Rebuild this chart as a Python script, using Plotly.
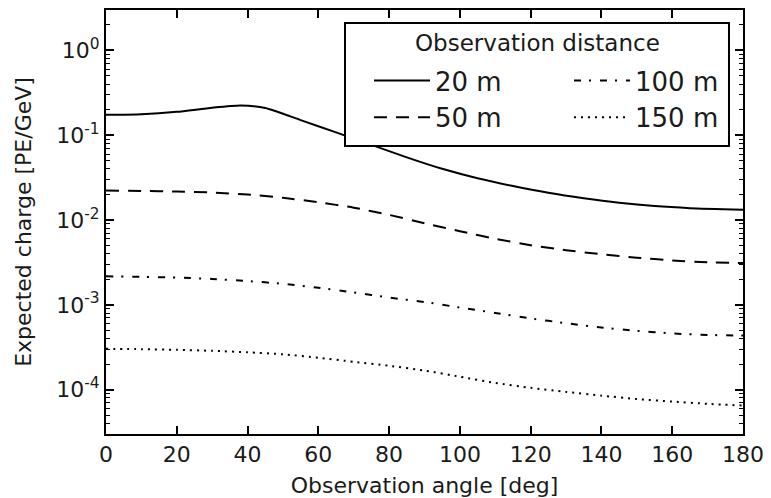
import plotly.graph_objects as go

# Observation angle [deg]
angle_20 = [0, 10, 20, 30, 38, 45, 55, 65, 75, 85, 95, 105, 115, 125, 135, 145, 155, 165, 180]
charge_20 = [0.174, 0.177, 0.189, 0.211, 0.224, 0.210, 0.151, 0.108, 0.0771, 0.0549, 0.0402,
             0.0311, 0.0252, 0.0210, 0.0181, 0.0160, 0.0146, 0.0138, 0.0132]

angle = [0, 10, 20, 30, 40, 50, 60, 70, 80, 90, 100, 110, 120, 130, 140, 150, 160, 170, 180]
charge_50 = [0.0223, 0.0220, 0.0217, 0.0211, 0.0200, 0.0183, 0.0162, 0.0140, 0.0115, 0.00917,
             0.00738, 0.00602, 0.00505, 0.00441, 0.00395, 0.00360, 0.00334, 0.00318, 0.00311]
charge_100 = [2.17e-3, 2.14e-3, 2.10e-3, 2.02e-3, 1.91e-3, 1.77e-3, 1.59e-3, 1.40e-3, 1.22e-3,
              1.08e-3, 9.3e-4, 8.03e-4, 6.93e-4, 6.07e-4, 5.40e-4, 4.94e-4, 4.60e-4, 4.42e-4, 4.34e-4]
charge_150 = [3.03e-4, 3.0e-4, 2.95e-4, 2.87e-4, 2.76e-4, 2.61e-4, 2.38e-4, 2.13e-4, 1.91e-4,
              1.68e-4, 1.42e-4, 1.20e-4, 1.05e-4, 9.4e-5, 8.5e-5, 7.75e-5, 7.24e-5, 6.8e-5, 6.5e-5]

series_names = ["20 m", "50 m", "100 m", "150 m"]
x_ticks = [0, 20, 40, 60, 80, 100, 120, 140, 160, 180]
y_tickvals = [1, 0.1, 0.01, 0.001, 0.0001]
y_ticktext = ["10<sup>0</sup>", "10<sup>-1</sup>", "10<sup>-2</sup>", "10<sup>-3</sup>", "10<sup>-4</sup>"]
y_minor = [k * 10.0 ** e for e in range(-5, 1) for k in range(2, 10)]

FONT = "DejaVu Sans"
INK = "#1a1a1a"

fig = go.Figure()
styles = [
    (angle_20, charge_20, "solid", "legend"),
    (angle, charge_50, "13px,9px", "legend"),
    (angle, charge_100, "7px,8px,2px,9px", "legend2"),
    (angle, charge_150, "2px,5px", "legend2"),
]
for name, (xs, ys, dash, lg) in zip(series_names, styles):
    fig.add_trace(go.Scatter(
        x=xs, y=ys, mode="lines", name=name, legend=lg,
        line=dict(color="black", width=2, dash=dash, shape="spline", smoothing=0.6),
    ))

# legend frame (drawn above the curves, under the legend text)
fig.add_shape(type="rect", xref="paper", yref="paper",
              x0=0.3752, x1=0.978, y0=0.6792, y1=0.9693,
              line=dict(color="black", width=2), fillcolor="white", layer="above")
fig.add_annotation(text="Observation distance", xref="paper", yref="paper",
                   x=0.678, y=0.922, showarrow=False, xanchor="center", yanchor="middle",
                   font=dict(family=FONT, size=23, color=INK))

leg_common = dict(bgcolor="rgba(0,0,0,0)", borderwidth=0, orientation="v",
                  font=dict(family=FONT, size=26, color=INK), itemwidth=56,
                  tracegroupgap=0, yref="paper", yanchor="top", xanchor="left")

fig.update_layout(
    width=771, height=498, autosize=False,
    margin=dict(l=106, r=28, t=10, b=64),
    paper_bgcolor="white", plot_bgcolor="white",
    font=dict(family=FONT, size=22, color=INK),
    showlegend=True,
    legend=dict(x=(369 - 106) / 637, y=(434 - 57) / 424, **leg_common),
    legend2=dict(x=(569 - 106) / 637, y=(434 - 57) / 424, **leg_common),
    xaxis=dict(
        range=[0, 180], tickvals=x_ticks, ticks="inside", ticklen=8, tickwidth=1.5,
        tickcolor="black", showline=True, linecolor="black", linewidth=2, mirror="ticks",
        showgrid=False, zeroline=False, automargin=False,
        tickfont=dict(family=FONT, size=22, color=INK),
        title=dict(text="Observation angle [deg]", standoff=14,
                   font=dict(family=FONT, size=22, color=INK)),
    ),
    yaxis=dict(
        type="log", range=[-4.523, 0.477], tickvals=y_tickvals, ticktext=y_ticktext,
        ticks="inside", ticklen=8, tickwidth=1.5, tickcolor="black",
        showline=True, linecolor="black", linewidth=2, mirror="ticks",
        showgrid=False, zeroline=False, automargin=False,
        minor=dict(tickvals=y_minor, ticks="inside", ticklen=4, tickwidth=1, tickcolor="black",
                   showgrid=False),
        tickfont=dict(family=FONT, size=22, color=INK),
        title=dict(text="Expected charge [PE/GeV]", standoff=19,
                   font=dict(family=FONT, size=22, color=INK)),
    ),
)

fig.write_html("out.html")
